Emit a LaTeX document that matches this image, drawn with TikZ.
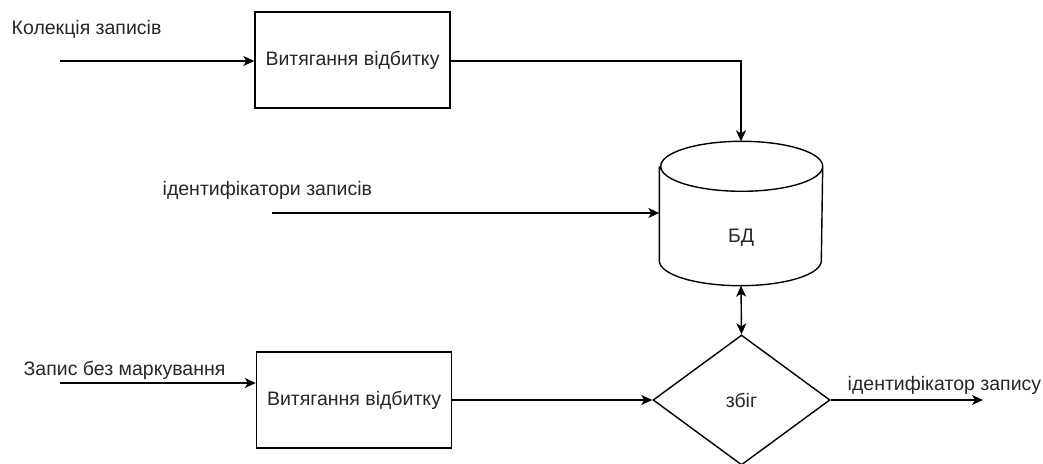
\documentclass[tikz,border=0pt]{standalone}
\usepackage{fontspec}
\setmainfont{Liberation Sans}
\usetikzlibrary{positioning,arrows.meta,shapes.geometric}

\begin{document}
\begin{tikzpicture}[
  x=1pt,y=1pt,line width=1.4pt,
  >={Stealth[length=11pt,width=10pt,inset=3pt]},
  font=\fontsize{19.5}{22}\selectfont,
  proc/.style={draw,minimum width=195pt,minimum height=96pt,inner sep=0pt},
  store/.style={minimum width=162pt,minimum height=143pt,inner sep=0pt},
  decide/.style={draw,diamond,aspect=1.36,minimum width=177pt,minimum height=130pt,inner sep=0pt},
  lbl/.style={anchor=west,inner sep=0pt,text=black!85}
]
\useasboundingbox (0,0) rectangle (1043,463);
% blocks
\node[proc,text=black!85] (ext1) at (352.5,403) {Витягання відбитку};
\node[proc,text=black!85] (ext2) at (354,63) {Витягання відбитку};
\node[store] (db) at (741,249.5) {};
\node[decide,text=black!85] (match) at (741.5,63) {збіг};
% database outline
\draw ([yshift=-25pt]db.north west) -- ([yshift=25pt]db.south west)
  arc[start angle=180,end angle=360,x radius=81pt,y radius=25pt]
  -- ([yshift=-25pt]db.north east)
  arc[start angle=0,end angle=180,x radius=81pt,y radius=25pt]
  arc[start angle=180,end angle=360,x radius=81pt,y radius=25pt];
\node[text=black!85] (dbname) at ([yshift=-24pt]db.center) {БД};
% inputs and outputs
\coordinate (in1) at (60,402);
\coordinate (in2) at (272,250);
\coordinate (in3) at (60,80);
\coordinate (out) at (983,63);
\node[lbl] (l1) at (11,434) {Колекція записів};
\node[lbl] (l2) at (162,273) {ідентифікатори записів};
\node[lbl] (l3) at (23,93) {Запис без маркування};
\node[lbl] (l4) at (847,78) {ідентифікатор запису};
\draw[->] (in1) -- (ext1.west |- in1);
\draw[->] (ext1.east |- in1) -| (db.north);
\draw[->] (in2) -- (db.west |- in2);
\draw[<->] (db.south) -- (match.north);
\draw[->] (in3) -- (ext2.west |- in3);
\draw[->] (ext2.east) -- (match.west);
\draw[->] (match.east) -- (out);
\end{tikzpicture}
\end{document}
